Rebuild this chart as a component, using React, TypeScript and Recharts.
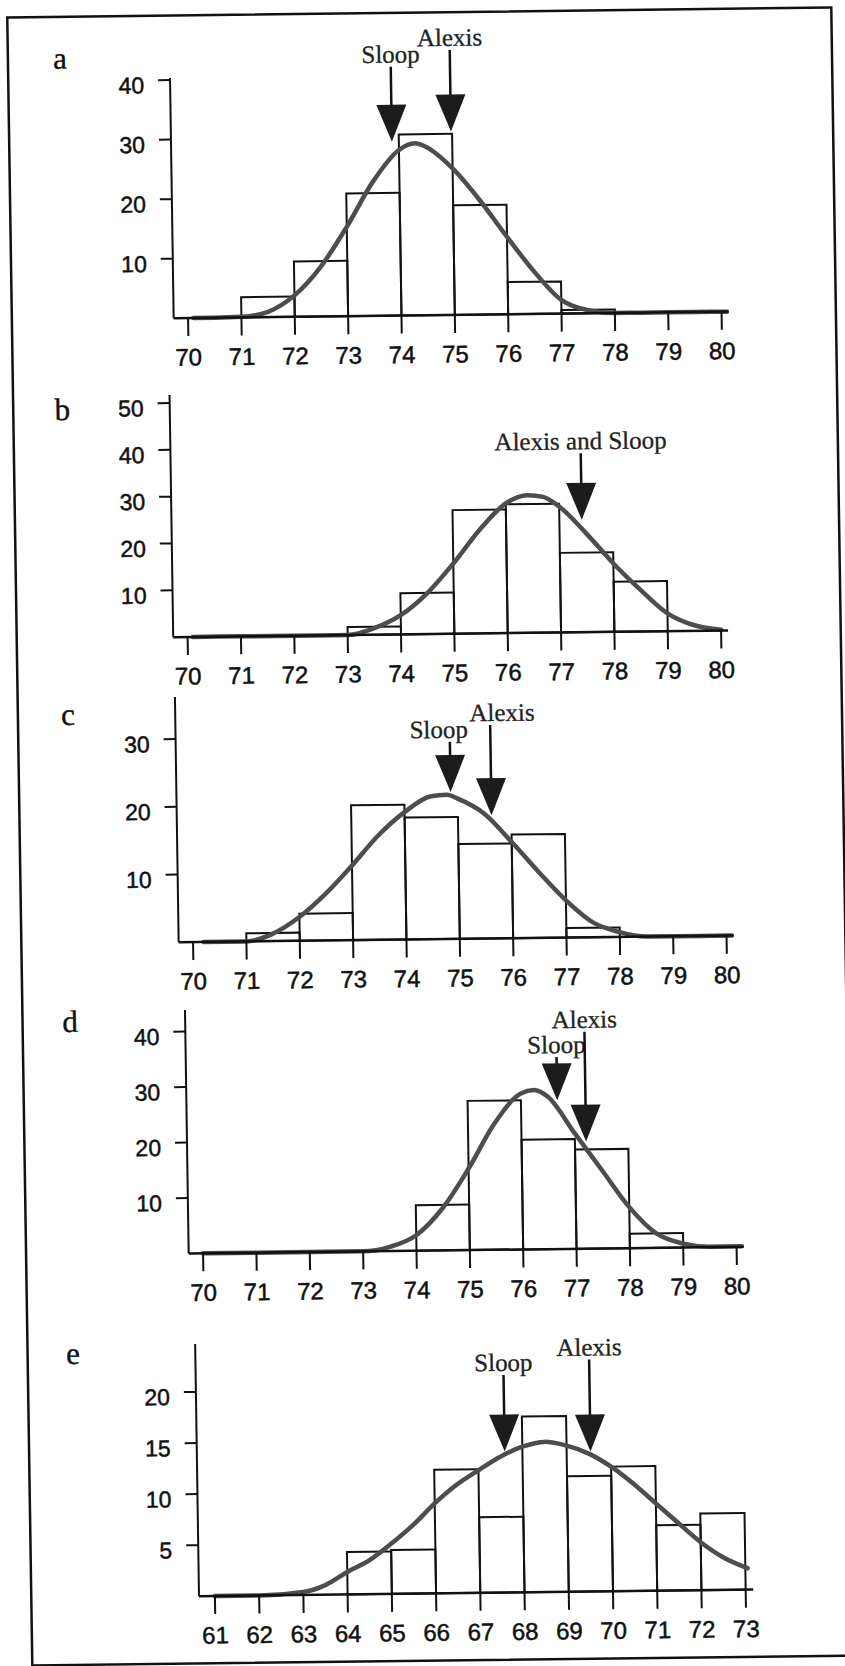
import React from "react";
import { ComposedChart, Line, Scatter, XAxis, YAxis, ReferenceArea } from "recharts";

// Height histograms (inches) with fitted normal curves; arrows mark Alexis and Sloop.

// panels a–d share the 70–80 inch scale; each bin starts at the listed value
const inchBins = [70, 71, 72, 73, 74, 75, 76, 77, 78, 79];
const inchTicks = [70, 71, 72, 73, 74, 75, 76, 77, 78, 79, 80];

const countsA = [0, 3.4, 9.3, 20.6, 30.4, 18.4, 5.4, 0.6, 0, 0];
const countsB = [0, 0, 0, 1.7, 8.8, 26.4, 27.5, 17.0, 10.7, 0];
const countsC = [0, 1.2, 4.0, 19.9, 18.0, 14.0, 15.3, 1.4, 0, 0];
const countsD = [0, 0, 0, 0, 8.2, 26.9, 19.8, 17.9, 2.6, 0];

// panel e is on a 61–73 scale
const binsE = [61, 62, 63, 64, 65, 66, 67, 68, 69, 70, 71, 72];
const ticksE = [61, 62, 63, 64, 65, 66, 67, 68, 69, 70, 71, 72, 73];
const countsE = [0, 0, 0, 4.15, 4.3, 12.1, 7.4, 17.2, 11.3, 12.2, 6.4, 7.5];

const yTicksA = [10, 20, 30, 40];
const yTicksB = [10, 20, 30, 40, 50];
const yTicksC = [10, 20, 30];
const yTicksD = [10, 20, 30, 40];
const yTicksE = [5, 10, 15, 20];

// fitted curves as [inches, count]
const curveA = [
  [70.1, 0], [70.5, 0], [71, 0.1], [71.5, 0.9], [72, 3.6], [72.5, 8.35], [73, 15.0],
  [73.5, 22.5], [74, 27.8], [74.3, 28.9], [74.5, 28.3], [75, 24.6], [75.5, 19.2],
  [76, 13.0], [76.5, 7.1], [77, 2.3], [77.5, 0.5], [78, 0], [78.5, 0], [79, 0], [79.5, 0], [80.1, 0],
];
const curveB = [
  [70.1, 0], [71, 0], [72, 0], [72.8, 0], [73, 0], [73.5, 1.4], [74, 4.1], [74.5, 8.7],
  [75, 15.0], [75.5, 22.1], [76, 27.7], [76.4, 29.4], [76.7, 29.0], [77, 26.9], [77.5, 21.1],
  [78, 14.6], [78.5, 8.9], [79, 3.8], [79.5, 1.2], [80, 0.2],
];
const curveC = [
  [70.2, 0], [71, 0], [71.5, 1.1], [72, 3.5], [72.5, 6.9], [73, 11.0], [73.5, 15.4],
  [74, 18.8], [74.5, 21.1], [74.8, 21.3], [75, 20.7], [75.5, 18.4], [76, 14.2], [76.5, 9.7],
  [77, 5.5], [77.5, 2.2], [78, 0.7], [78.5, 0], [79, 0], [79.5, 0], [80.1, 0],
];
const curveD = [
  [70, 0], [71, 0], [72, 0], [73, 0], [73.5, 0.76], [74, 2.8], [74.5, 7.6], [75, 14.7],
  [75.5, 22.8], [76, 28.1], [76.25, 28.7], [76.5, 27.5], [77, 20.8], [77.5, 14.1], [78, 7.4],
  [78.5, 2.6], [79, 0.7], [79.5, 0.1], [80.1, 0.1],
];
const curveE = [
  [61, 0], [62, 0], [63, 0.3], [63.5, 0.94], [64, 2.2], [64.5, 3.3], [65, 4.9], [65.5, 6.7],
  [66, 8.8], [66.5, 10.6], [67, 12.0], [67.5, 13.3], [68, 14.25], [68.5, 14.7], [69, 14.3],
  [69.5, 13.5], [70, 12.2], [70.5, 10.5], [71, 8.55], [71.5, 6.6], [72, 4.7], [72.5, 3.2], [73.05, 2.1],
];

// arrows: x position, count at the tip, count where the shaft starts
const arrowsA = [
  { label: "Sloop", x: 73.87, tip: 29.2, top: 41.8 },
  { label: "Alexis", x: 74.98, tip: 30.8, top: 44.5 },
];
const arrowsB = [{ label: "Alexis and Sloop", x: 77.42, tip: 24.0, top: 38.2 }];
const arrowsC = [
  { label: "Sloop", x: 74.87, tip: 21.7, top: 29.1 },
  { label: "Alexis", x: 75.63, tip: 18.2, top: 31.5 },
];
const arrowsD = [
  { label: "Sloop", x: 76.68, tip: 26.8, top: 34.6 },
  { label: "Alexis", x: 77.21, tip: 19.3, top: 39.1 },
];
const arrowsE = [
  { label: "Sloop", x: 67.6, tip: 13.8, top: 21.3 },
  { label: "Alexis", x: 69.54, tip: 13.7, top: 22.7 },
];

const SANS = "'Liberation Sans', Arial, Helvetica, sans-serif";
const SERIF = "'Liberation Serif', 'Times New Roman', serif";
const INK = "#111";
const TOP_ROOM = 75;
const AXIS_ROOM = 60;
const Y_W = 60;

const panels = [
  { letter: "a", lx: 59, ly: 69.5, bins: inchBins, counts: countsA, curve: curveA, arrows: arrowsA,
    xTicks: inchTicks, yTicks: yTicksA, xDomain: [69.73, 80.13], ppi: 53.35, yTop: 40.35,
    left: 168.8, top: 80, bottom: 320.3, labelDx: {} },
  { letter: "b", lx: 56, ly: 420.5, bins: inchBins, counts: countsB, curve: curveB, arrows: arrowsB,
    xTicks: inchTicks, yTicks: yTicksB, xDomain: [69.73, 80.13], ppi: 53.35, yTop: 51.7,
    left: 163.5, top: 397.1, bottom: 639.2, labelDx: {} },
  { letter: "c", lx: 57, ly: 725.5, bins: inchBins, counts: countsC, curve: curveC, arrows: arrowsC,
    xTicks: inchTicks, yTicks: yTicksC, xDomain: [69.73, 80.13], ppi: 53.35, yTop: 36.2,
    left: 164.3, top: 698.8, bottom: 944, labelDx: { Sloop: -11, Alexis: 12 } },
  { letter: "d", lx: 54.5, ly: 1032.5, bins: inchBins, counts: countsD, curve: curveD, arrows: arrowsD,
    xTicks: inchTicks, yTicks: yTicksD, xDomain: [69.73, 80.13], ppi: 53.35, yTop: 43.9,
    left: 169.6, top: 1012.1, bottom: 1255.6, labelDx: {} },
  { letter: "e", lx: 52.5, ly: 1364.5, bins: binsE, counts: countsE, curve: curveE, arrows: arrowsE,
    xTicks: ticksE, yTicks: yTicksE, xDomain: [60.64, 73.17], ppi: 44.23, yTop: 24.7,
    left: 174.7, top: 1346.2, bottom: 1598.5, labelDx: {} },
];

function XTick(props: any) {
  return (
    <text x={props.x} y={props.y + 29.5} textAnchor="middle" fontFamily={SANS} fontSize={24}
      fill={INK} stroke={INK} strokeWidth={0.5}>
      {props.payload.value}
    </text>
  );
}

function YTick(props: any) {
  return (
    <text x={props.x} y={props.y + 13} textAnchor="end" fontFamily={SANS} fontSize={23}
      fill={INK} stroke={INK} strokeWidth={0.5}>
      {props.payload.value}
    </text>
  );
}

function Arrow(props: any) {
  const { cx, cy, payload, unit, dx } = props;
  const headH = 37;
  const half = 15;
  const shaftTop = cy - (payload.top - payload.tip) * unit;
  return (
    <g>
      <line x1={cx} y1={shaftTop} x2={cx} y2={cy - headH + 2} stroke={INK} strokeWidth={2.5} />
      <path d={`M${cx - half},${cy - headH} L${cx + half},${cy - headH} L${cx},${cy} Z`} fill="#1c1c1c" />
      <text x={cx + (dx || 0)} y={shaftTop - 4} textAnchor="middle" fontFamily={SERIF} fontSize={25}
        fill="#222" stroke="#222" strokeWidth={0.3}>
        {payload.label}
      </text>
    </g>
  );
}

function Panel({ p }: { p: any }) {
  const plotW = (p.xDomain[1] - p.xDomain[0]) * p.ppi;
  const plotH = p.bottom - p.top;
  const unit = plotH / p.yTop;
  const curveData = p.curve.map(([x, y]: number[]) => ({ x, y }));

  return (
    <div style={{ position: "absolute", left: 0, top: p.top - TOP_ROOM }}>
      <ComposedChart
        width={845}
        height={TOP_ROOM + plotH + AXIS_ROOM}
        margin={{ top: TOP_ROOM, right: 845 - p.left - plotW, bottom: 0, left: p.left - Y_W }}
      >
        <XAxis
          type="number"
          dataKey="x"
          domain={p.xDomain}
          ticks={p.xTicks}
          interval={0}
          height={AXIS_ROOM}
          tickSize={18}
          tickMargin={0}
          axisLine={{ stroke: INK, strokeWidth: 2.5 }}
          tickLine={{ stroke: INK, strokeWidth: 2 }}
          tick={XTick}
        />
        <YAxis
          type="number"
          domain={[0, p.yTop]}
          ticks={p.yTicks}
          interval={0}
          width={Y_W}
          tickSize={12}
          tickMargin={14}
          axisLine={{ stroke: INK, strokeWidth: 2 }}
          tickLine={{ stroke: INK, strokeWidth: 2 }}
          tick={YTick}
        />
        {p.bins.map((b: number, i: number) =>
          p.counts[i] > 0 ? (
            <ReferenceArea
              key={b}
              x1={b}
              x2={b + 1}
              y1={0}
              y2={p.counts[i]}
              fill="none"
              fillOpacity={0}
              stroke={INK}
              strokeWidth={2}
            />
          ) : null
        )}
        <Line
          data={curveData}
          dataKey="y"
          type="monotone"
          stroke="#4d4d4d"
          strokeWidth={4.5}
          strokeLinecap="round"
          dot={false}
          activeDot={false}
          isAnimationActive={false}
        />
        <Scatter
          data={p.arrows}
          dataKey="tip"
          isAnimationActive={false}
          shape={(s: any) => <Arrow {...s} unit={unit} dx={p.labelDx[s.payload.label]} />}
        />
      </ComposedChart>
    </div>
  );
}

export default function App() {
  return (
    <div style={{ position: "absolute", left: 0, top: 0, width: 845, height: 1666, overflow: "hidden", background: "#fff" }}>
      {/* the scan is slightly skewed, so the whole figure is sheared to match */}
      <div
        style={{
          position: "absolute",
          left: 0,
          top: 0,
          width: 845,
          height: 1666,
          transform: "matrix(1, -0.012, 0.0152, 1, 0, 0)",
          transformOrigin: "0 0",
        }}
      >
        <svg width={845} height={1680} style={{ position: "absolute", left: 0, top: 0 }}>
          <rect x={7} y={17.5} width={824} height={1648} fill="none" stroke={INK} strokeWidth={2.5} />
          {panels.map((p) => (
            <text key={p.letter} x={p.lx} y={p.ly} textAnchor="middle" fontFamily={SERIF} fontSize={31}
              fill={INK} stroke={INK} strokeWidth={0.4}>
              {p.letter}
            </text>
          ))}
        </svg>
        {panels.map((p) => (
          <Panel key={p.letter} p={p} />
        ))}
      </div>
    </div>
  );
}
